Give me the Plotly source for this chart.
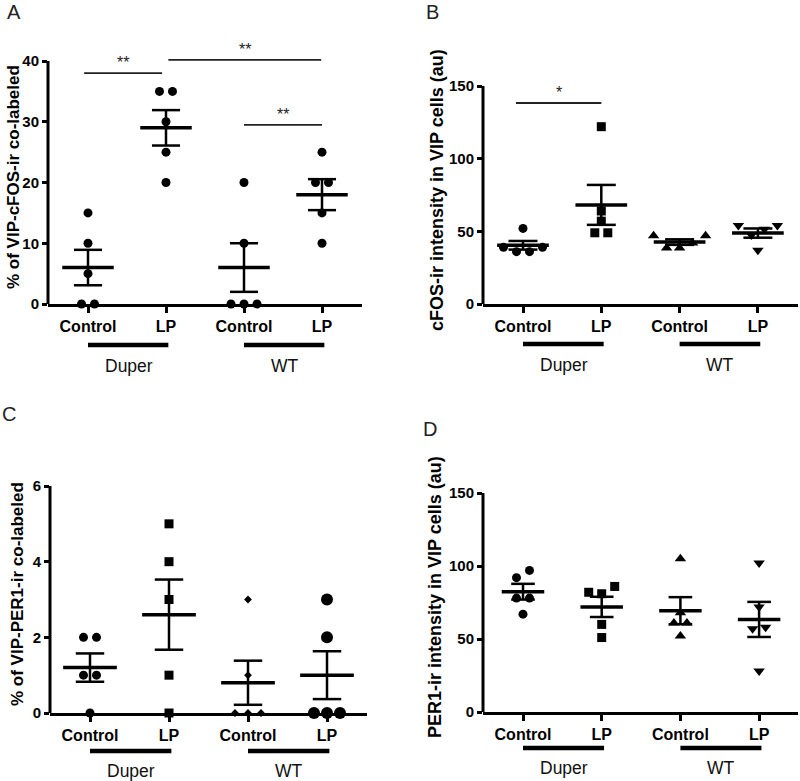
import numpy as np
import plotly.graph_objects as go

W, H = 800, 781

categories = ["Control", "LP", "Control", "LP"]
genotype_labels = ["Duper", "WT"]

# Panel A: % of VIP-cFOS-ir co-labeled
a_duper_control = [15, 10, 5, 0, 0]
a_duper_lp = [35, 35, 30, 25, 20]
a_wt_control = [20, 10, 0, 0, 0]
a_wt_lp = [25, 20, 20, 15, 10]
a_ticks = [0, 10, 20, 30, 40]
a_sig = [(0.95, 1.95, 38.0, "**"), (2.03, 3.99, 40.2, "**"), (3.0, 4.0, 29.5, "**")]

# Panel B: cFOS-ir intensity in VIP cells (au)
b_duper_control = [52, 39, 39, 36, 36]
b_duper_lp = [122, 64, 57, 49, 49]
b_wt_control = [47, 47, 42, 38.5, 38.5]
b_wt_lp = [54, 54, 51.5, 47.5, 37]
b_ticks = [0, 50, 100, 150]
b_sig = [(0.91, 2.0, 138.3, "*")]

# Panel C: % of VIP-PER1-ir co-labeled
c_duper_control = [2, 2, 1, 1, 0]
c_duper_lp = [5, 4, 3, 1, 0]
c_wt_control = [3, 1, 0, 0, 0]
c_wt_lp = [3, 2, 0, 0, 0]
c_ticks = [0, 2, 4, 6]
c_sig = []

# Panel D: PER1-ir intensity in VIP cells (au)
d_duper_control = [97, 92, 78, 78, 67]
d_duper_lp = [86, 82, 81, 60, 51]
d_wt_control = [105, 68, 61, 61, 52]
d_wt_lp = [102, 72, 58, 57, 28]
d_ticks = [0, 50, 100, 150]
d_sig = []

FONT = "Arial, Liberation Sans, sans-serif"

panels = [
    dict(letter="A", letter_px=(14, 12), data=[a_duper_control, a_duper_lp, a_wt_control, a_wt_lp],
         ticks=a_ticks, ymax=41, sig=a_sig, left=48, right=362, c1=88, sp=78, y0=304, ytop=61,
         title="% of VIP-cFOS-ir co-labeled", title_px=(13, 177), title_size=17,
         gline=345, glabel=366, symbols=["circle"] * 4, sizes=[9, 9, 9, 9], mh=0.33, ch=0.18),
    dict(letter="B", letter_px=(432, 12), data=[b_duper_control, b_duper_lp, b_wt_control, b_wt_lp],
         ticks=b_ticks, ymax=150, sig=b_sig, left=483, right=798, c1=523, sp=78.3, y0=304, ytop=86,
         title="cFOS-ir intensity in VIP cells (au)", title_px=(437, 190), title_size=18,
         gline=344, glabel=365, symbols=["circle", "square", "triangle-up", "triangle-down"],
         sizes=[9, 9, 10, 10], mh=0.33, ch=0.185),
    dict(letter="C", letter_px=(9, 414), data=[c_duper_control, c_duper_lp, c_wt_control, c_wt_lp],
         ticks=c_ticks, ymax=6, sig=c_sig, left=50, right=367, c1=90, sp=79, y0=713, ytop=486,
         title="% of VIP-PER1-ir co-labeled", title_px=(17, 594), title_size=17,
         gline=751, glabel=771, symbols=["circle", "square", "diamond", "circle"],
         sizes=[9, 9, 6, 12], mh=0.34, ch=0.18),
    dict(letter="D", letter_px=(430, 429), data=[d_duper_control, d_duper_lp, d_wt_control, d_wt_lp],
         ticks=d_ticks, ymax=150, sig=d_sig, left=483, right=798, c1=523, sp=78.7, y0=712, ytop=493,
         title="PER1-ir intensity in VIP cells (au)", title_px=(435, 597), title_size=18,
         gline=748, glabel=768, symbols=["circle", "square", "triangle-up", "triangle-down"],
         sizes=[9, 9, 10, 10], mh=0.27, ch=0.15),
]


def swarm(values, center, ppu_y, d_units, thresh_px=9.0):
    """Spread points that would overlap vertically symmetrically around the group centre."""
    vals = np.asarray(values, float)
    order = np.argsort(vals, kind="stable")
    clusters, cur = [], [order[0]]
    for idx in order[1:]:
        if (vals[idx] - vals[cur[-1]]) * ppu_y < thresh_px:
            cur.append(idx)
        else:
            clusters.append(cur)
            cur = [idx]
    clusters.append(cur)
    xs = np.zeros(len(vals))
    for cl in clusters:
        n = len(cl)
        offs = [(k - (n - 1) / 2) for k in range(n)]
        offs = sorted(offs, key=lambda o: (abs(o), o))
        for idx, o in zip(cl, offs):
            xs[idx] = center + o * d_units
    return xs


fig = go.Figure()
shapes, annotations = [], []
layout_axes = {}

for i, p in enumerate(panels):
    n = "" if i == 0 else str(i + 1)
    xa, ya = "x" + n, "y" + n
    tickmax = p["ticks"][-1]
    ppu = (p["y0"] - p["ytop"]) / tickmax
    top_px = p["y0"] - p["ymax"] * ppu
    xr = [1 + (p["left"] - p["c1"]) / p["sp"], 1 + (p["right"] - p["c1"]) / p["sp"]]
    d_units = 13.0 / p["sp"]

    layout_axes["xaxis" + n] = dict(
        domain=[p["left"] / W, p["right"] / W], range=xr, anchor=ya,
        tickmode="array", tickvals=[1, 2, 3, 4], ticktext=categories,
        ticks="outside", ticklen=6, tickwidth=3, tickcolor="black",
        showline=True, linewidth=3, linecolor="black", automargin=False,
        showgrid=False, zeroline=False, fixedrange=True,
        tickfont=dict(family=FONT, size=16, color="black", weight="bold"),
    )
    layout_axes["yaxis" + n] = dict(
        domain=[1 - p["y0"] / H, 1 - top_px / H], range=[0, p["ymax"]], anchor=xa,
        tickmode="array", tickvals=p["ticks"], ticktext=[str(t) for t in p["ticks"]],
        ticks="outside", ticklen=5, tickwidth=3, tickcolor="black", automargin=False,
        showline=False, showgrid=False, zeroline=False, fixedrange=True,
        tickfont=dict(family=FONT, size=15, color="black", weight="bold"),
    )
    # y axis line only up to the top tick
    shapes.append(dict(type="line", xref=xa + " domain", yref=ya, x0=0, x1=0, y0=0, y1=tickmax,
                       line=dict(color="black", width=3)))

    for g, vals in enumerate(p["data"]):
        center = g + 1
        xs = swarm(vals, center, ppu, d_units)
        fig.add_trace(go.Scatter(
            x=xs, y=vals, mode="markers", xaxis=xa, yaxis=ya, cliponaxis=False,
            marker=dict(symbol=p["symbols"][g], size=p["sizes"][g], color="black",
                        line=dict(width=0)),
            showlegend=False, hoverinfo="y"))
        arr = np.asarray(vals, float)
        m = arr.mean()
        s = arr.std(ddof=1) / np.sqrt(len(arr))
        fig.add_trace(go.Scatter(
            x=[center - p["mh"], center + p["mh"]], y=[m, m], mode="lines",
            xaxis=xa, yaxis=ya, line=dict(color="black", width=3.5),
            showlegend=False, hoverinfo="skip"))
        fig.add_trace(go.Scatter(
            x=[center, center, None, center - p["ch"], center + p["ch"], None,
               center - p["ch"], center + p["ch"]],
            y=[m - s, m + s, None, m + s, m + s, None, m - s, m - s], mode="lines",
            xaxis=xa, yaxis=ya, line=dict(color="black", width=2.5),
            showlegend=False, hoverinfo="skip"))

    for (x0, x1, yv, txt) in p["sig"]:
        shapes.append(dict(type="line", xref=xa, yref=ya, x0=x0, x1=x1, y0=yv, y1=yv,
                           line=dict(color="#222", width=1.8)))
        annotations.append(dict(x=(x0 + x1) / 2, y=yv, xref=xa, yref=ya, text=txt,
                                showarrow=False, yanchor="bottom", yshift=0,
                                font=dict(family=FONT, size=16, color="#222")))

    # genotype group bars and labels
    for k, lab in enumerate(genotype_labels):
        gx0, gx1 = 1 + 2 * k, 2 + 2 * k
        shapes.append(dict(type="line", xref=xa, yref="paper", x0=gx0, x1=gx1 + 0.03,
                           y0=1 - p["gline"] / H, y1=1 - p["gline"] / H,
                           line=dict(color="black", width=4.5)))
        annotations.append(dict(x=(gx0 + gx1) / 2 + 0.02, y=1 - p["glabel"] / H, xref=xa, yref="paper",
                                text=lab, showarrow=False, yanchor="middle",
                                font=dict(family=FONT, size=17.5, color="#111")))

    # y axis title
    annotations.append(dict(x=p["title_px"][0] / W, y=1 - p["title_px"][1] / H, xref="paper",
                            yref="paper", text="<b>" + p["title"] + "</b>", textangle=-90,
                            showarrow=False, xanchor="center", yanchor="middle",
                            font=dict(family=FONT, size=p["title_size"], color="black")))
    # panel letter
    annotations.append(dict(x=p["letter_px"][0] / W, y=1 - p["letter_px"][1] / H, xref="paper",
                            yref="paper", text=p["letter"], showarrow=False,
                            xanchor="center", yanchor="middle",
                            font=dict(family=FONT, size=20, color="#222")))

fig.update_layout(
    width=W, height=H, autosize=False,
    margin=dict(l=0, r=0, t=0, b=0, pad=0),
    paper_bgcolor="white", plot_bgcolor="white",
    shapes=shapes, annotations=annotations, showlegend=False,
    **layout_axes,
)

page_fix = (
    "var de=document.documentElement, b=document.body;"
    "de.style.margin='0';de.style.padding='0';de.style.overflow='hidden';"
    "b.style.margin='0';b.style.padding='0';b.style.overflow='hidden';"
    "var d=document.getElementById('{plot_id}');"
    "d.style.position='fixed';d.style.left='0px';d.style.top='0px';"
)

fig.write_html("out.html", config={"displayModeBar": False}, post_script=page_fix)
